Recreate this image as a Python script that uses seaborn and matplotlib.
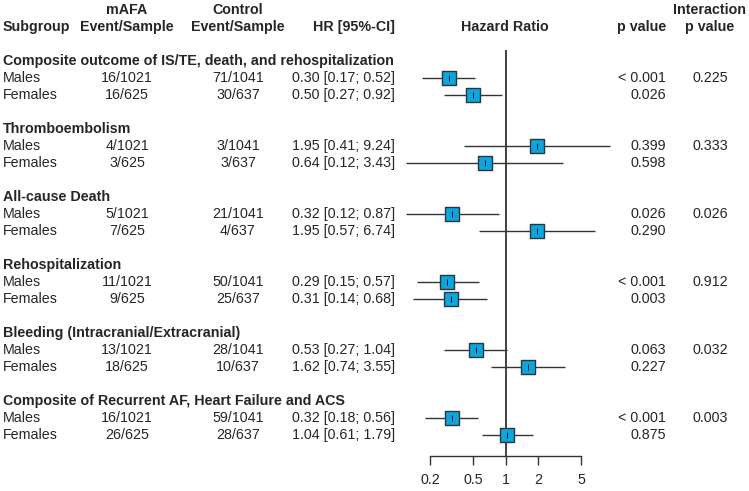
import numpy as np
import pandas as pd
import matplotlib
matplotlib.use("Agg")
import matplotlib.pyplot as plt
import seaborn as sns

# ---------- DATA ----------

groups = [
    "Composite outcome of IS/TE, death, and rehospitalization",
    "Thromboembolism",
    "All-cause Death",
    "Rehospitalization",
    "Bleeding (Intracranial/Extracranial)",
    "Composite of Recurrent AF, Heart Failure and ACS",
]
subgroups = ["Males", "Females"]

mafa_events = [[16, 16], [4, 3], [5, 7], [11, 9], [13, 18], [16, 26]]
mafa_n = [1021, 625]
ctrl_events = [[71, 30], [3, 3], [21, 4], [50, 25], [28, 10], [59, 28]]
ctrl_n = [1041, 637]

hr = [[0.30, 0.50], [1.95, 0.64], [0.32, 1.95], [0.29, 0.31], [0.53, 1.62], [0.32, 1.04]]
ci_low = [[0.17, 0.27], [0.41, 0.12], [0.12, 0.57], [0.15, 0.14], [0.27, 0.74], [0.18, 0.61]]
ci_high = [[0.52, 0.92], [9.24, 3.43], [0.87, 6.74], [0.57, 0.68], [1.04, 3.55], [0.56, 1.79]]

p_values = [["< 0.001", "0.026"], ["0.399", "0.598"], ["0.026", "0.290"],
            ["< 0.001", "0.003"], ["0.063", "0.227"], ["< 0.001", "0.875"]]
p_interaction = ["0.225", "0.333", "0.026", "0.912", "0.032", "0.003"]

hr_ticks = [0.2, 0.5, 1, 2, 5]
tick_labels = ["0.2", "0.5", "1", "2", "5"]

# ---------- LAYOUT ----------

W, H = 749, 491
ROW0 = 27.0      # pixel y of header row
ROWH = 17.0      # pixel height of one row
BOX = "#05A8E2"
DARK = "#333333"
FS = 10.3

sns.set_style("white")
plt.rcParams["font.family"] = ["Liberation Sans", "DejaVu Sans"]
plt.rcParams["font.size"] = FS

fig = plt.figure(figsize=(W / 100, H / 100), dpi=100)
ax = fig.add_axes([0, 0, 1, 1])
ylim = ((H - ROW0) / ROWH, -ROW0 / ROWH)
ax.set_xlim(0, W)
ax.set_ylim(*ylim)
ax.axis("off")

fax = fig.add_axes([430 / W, 0, 151 / W, 1])
fax.set_xscale("log")
fax.set_xlim(0.2, 5)
fax.set_ylim(*ylim)
fax.patch.set_alpha(0)

# ---------- HEADER ----------

bold = dict(fontweight="bold", va="center")
ax.text(127, -1, "mAFA", ha="center", **bold)
ax.text(238, -1, "Control", ha="center", **bold)
ax.text(710, -1, "Interaction", ha="center", **bold)
ax.text(3, 0, "Subgroup", ha="left", **bold)
ax.text(127, 0, "Event/Sample", ha="center", **bold)
ax.text(238, 0, "Event/Sample", ha="center", **bold)
ax.text(395, 0, "HR [95%-CI]", ha="right", **bold)
ax.text(505, 0, "Hazard Ratio", ha="center", **bold)
ax.text(666, 0, "p value", ha="right", **bold)
ax.text(710, 0, "p value", ha="center", **bold)

# ---------- TABLE ROWS ----------

records = []
for g, title in enumerate(groups):
    r_title = 2 + 4 * g
    ax.text(3, r_title, title, ha="left", **bold)
    for s, sub in enumerate(subgroups):
        r = r_title + 1 + s
        ax.text(3, r, sub, ha="left", va="center")
        ax.text(127, r, f"{mafa_events[g][s]}/{mafa_n[s]}", ha="center", va="center")
        ax.text(238, r, f"{ctrl_events[g][s]}/{ctrl_n[s]}", ha="center", va="center")
        ax.text(395, r, f"{hr[g][s]:.2f} [{ci_low[g][s]:.2f}; {ci_high[g][s]:.2f}]",
                ha="right", va="center")
        ax.text(666, r, p_values[g][s], ha="right", va="center")
        if s == 0:
            ax.text(710, r, p_interaction[g], ha="center", va="center")
        records.append({"row": r, "hr": hr[g][s],
                        "lo": ci_low[g][s], "hi": ci_high[g][s]})

df = pd.DataFrame(records)

# ---------- FOREST ----------

axis_row = (456 - ROW0) / ROWH
fax.vlines(1, (50 - ROW0) / ROWH, axis_row, color=DARK, lw=1.3, zorder=1)
fax.hlines(df["row"], df["lo"], df["hi"], color=DARK, lw=1.0, clip_on=False, zorder=2)
sns.scatterplot(data=df, x="hr", y="row", marker="s", s=95, color=BOX,
                edgecolor=DARK, linewidth=1.0, ax=fax, zorder=3, legend=False)
sns.scatterplot(data=df, x="hr", y="row", marker="|", s=18, color="black",
                linewidth=0.7, ax=fax, zorder=4, legend=False)

for side in ["top", "left", "right"]:
    fax.spines[side].set_visible(False)
fax.spines["bottom"].set_position(("data", axis_row))
fax.spines["bottom"].set_bounds(0.2, 5)
fax.spines["bottom"].set_color(DARK)
fax.spines["bottom"].set_linewidth(1.0)
fax.set_xticks(hr_ticks)
fax.set_xticklabels(tick_labels)
fax.xaxis.set_minor_locator(matplotlib.ticker.NullLocator())
fax.tick_params(axis="x", direction="out", length=6.5, width=1.0, color=DARK,
                pad=6, labelsize=FS, bottom=True)
fax.set_yticks([])
fax.set_xlabel("")
fax.set_ylabel("")

fig.savefig("out.png", dpi=100)
